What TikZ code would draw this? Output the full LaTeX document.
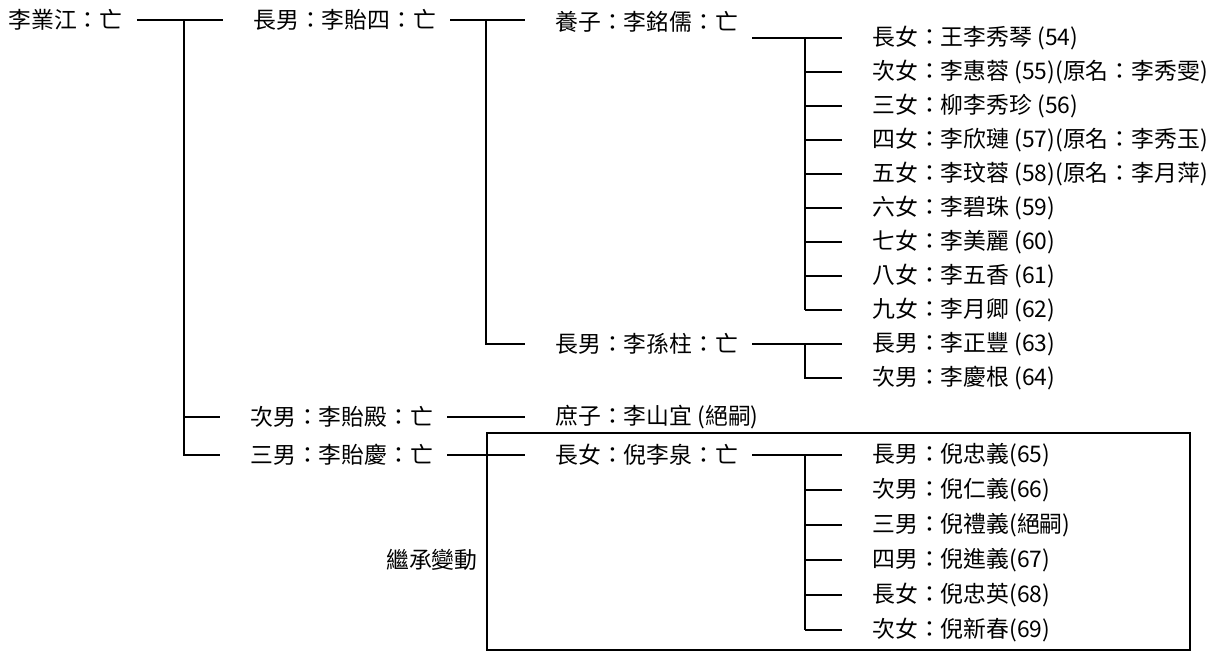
\documentclass[tikz,border=0pt]{standalone}
\usepackage{fontspec}
\setmainfont{Noto Sans CJK TC}
\tikzset{
  person/.style={anchor=west, inner sep=0pt, font=\fontsize{13}{15}\selectfont},
  link/.style={black, line width=0.9pt},
  frame/.style={black, line width=0.8pt}
}
\begin{document}
\begin{tikzpicture}[x=0.02cm, y=-0.02cm]
\useasboundingbox (0,0) rectangle (1224,659);
% first generation
\node [person] (root) at (8,20) {李業江：亡};
% sons
\node [person] (s1) at (253,20) {長男：李貽四：亡};
\node [person] (s2) at (250,417) {次男：李貽殿：亡};
\node [person] (s3) at (250,455) {三男：李貽慶：亡};
% grandchildren
\node [person] (adopt) at (555,22) {養子：李銘儒：亡};
\node [person] (sun) at (555,344) {長男：李孫柱：亡};
\node [person] (shu) at (555,417) {庶子：李山宜 (絕嗣)};
\node [person] (ni) at (555,455) {長女：倪李泉：亡};
% children of the adopted son
\node [person] (d1) at (872,38) {長女：王李秀琴 (54)};
\node [person] (d2) at (872,72) {次女：李惠蓉 (55)(原名：李秀雯)};
\node [person] (d3) at (872,106) {三女：柳李秀珍 (56)};
\node [person] (d4) at (872,140) {四女：李欣璉 (57)(原名：李秀玉)};
\node [person] (d5) at (872,174) {五女：李玟蓉 (58)(原名：李月萍)};
\node [person] (d6) at (872,208) {六女：李碧珠 (59)};
\node [person] (d7) at (872,242) {七女：李美麗 (60)};
\node [person] (d8) at (872,276) {八女：李五香 (61)};
\node [person] (d9) at (872,310) {九女：李月卿 (62)};
\node [person] (g1) at (872,344) {長男：李正豐 (63)};
\node [person] (g2) at (872,378) {次男：李慶根 (64)};
% children of the eldest daughter
\node [person] (n1) at (872,455) {長男：倪忠義(65)};
\node [person] (n2) at (872,490) {次男：倪仁義(66)};
\node [person] (n3) at (872,525) {三男：倪禮義(絕嗣)};
\node [person] (n4) at (872,560) {四男：倪進義(67)};
\node [person] (n5) at (872,595) {長女：倪忠英(68)};
\node [person] (n6) at (872,630) {次女：倪新春(69)};
\node [person, anchor=east] (change) at (478,560) {繼承變動};
% spines
\coordinate (j0) at (184,0);
\coordinate (j1) at (486,0);
\coordinate (j2) at (805,0);
% connectors
\draw [link] ([xshift=8pt]root.east) -- ([xshift=-17pt]s1.west);
\draw [link] (j0 |- root.east) |- ([xshift=-17pt]s3.west);
\draw [link] (j0 |- s2.west) -- ([xshift=-17pt]s2.west);
\draw [link] ([xshift=8pt]s1.east) -- ([xshift=-17pt]s1.east -| adopt.west);
\draw [link] (j1 |- s1.east) |- ([xshift=-17pt]sun.west);
\draw [link] ([xshift=8pt]s2.east) -- ([xshift=-17pt]shu.west);
\draw [link] ([xshift=8pt]s3.east) -- ([xshift=-17pt]ni.west);
\draw [link] ([xshift=8pt]adopt.east |- d1.west) -- ([xshift=-17pt]d1.west);
\draw [link] (j2 |- d1.west) -- (j2 |- d9.west);
\foreach \i in {2,...,9}
  \draw [link] (j2 |- d\i.west) -- ([xshift=-17pt]d\i.west);
\draw [link] ([xshift=8pt]sun.east) -- ([xshift=-17pt]g1.west);
\draw [link] (j2 |- g1.west) |- ([xshift=-17pt]g2.west);
\draw [link] ([xshift=8pt]ni.east) -- ([xshift=-17pt]n1.west);
\draw [link] (j2 |- n1.west) -- (j2 |- n6.west);
\foreach \i in {2,...,6}
  \draw [link] (j2 |- n\i.west) -- ([xshift=-17pt]n\i.west);
% inheritance change box
\draw [frame] (487,433) rectangle (1190,650);
\end{tikzpicture}
\end{document}
